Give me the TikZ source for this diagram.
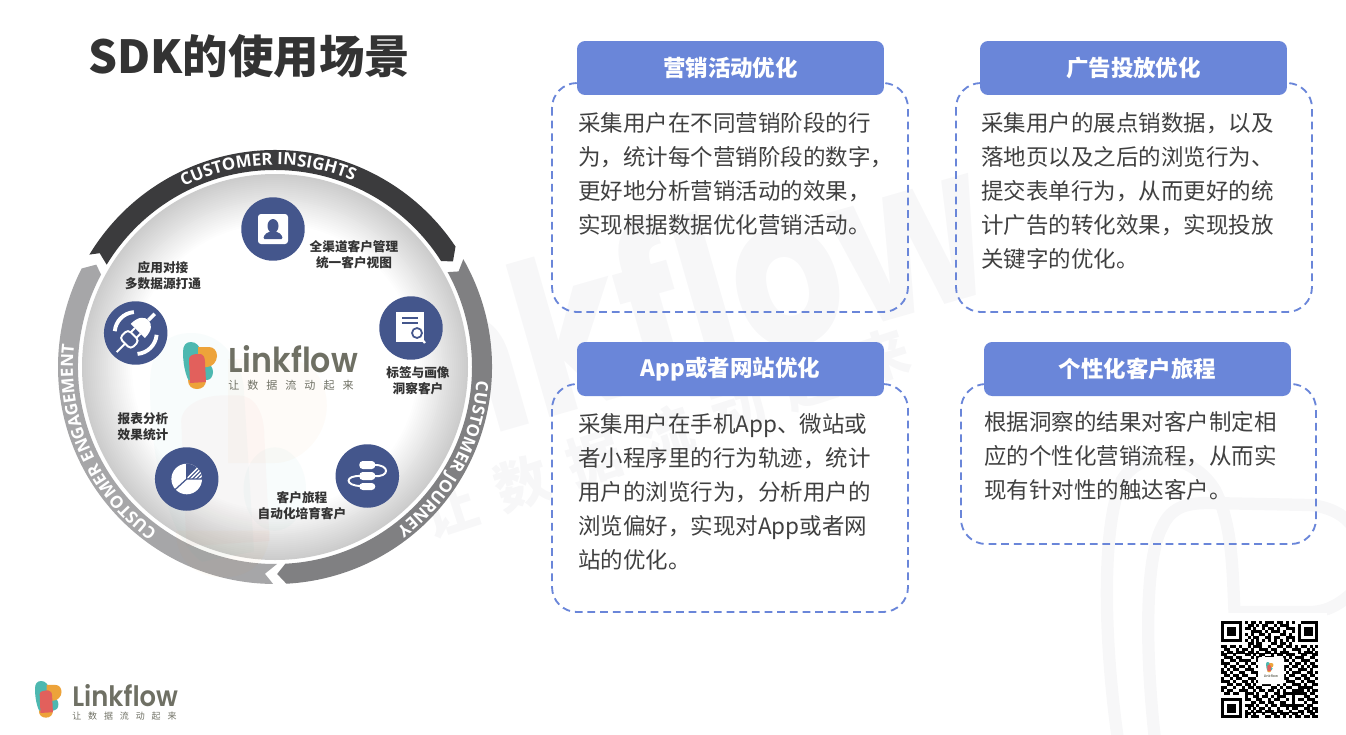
\documentclass[tikz,border=0pt]{standalone}
\usepackage{fontspec}
\setmainfont{Noto Sans CJK SC}
\newfontfamily\logofont{Poppins SemiBold}
\newfontfamily\wmfont{Poppins}
\newfontfamily\ringfont{Open Sans}[BoldFont=* Bold]
\usetikzlibrary{decorations.text}
\definecolor{cardblue}{HTML}{6A86D9}
\definecolor{ringdark}{HTML}{3B3B3D}
\definecolor{ringmid}{HTML}{808082}
\definecolor{ringpale}{HTML}{A6A6A8}
\definecolor{iconblue}{HTML}{44568C}
\definecolor{bodygray}{HTML}{404040}
\definecolor{logogray}{HTML}{6F7064}
\definecolor{logoteal}{HTML}{4DB8B0}
\definecolor{logored}{HTML}{E2605C}
\definecolor{logoorange}{HTML}{EDA33A}
\definecolor{wmgray}{HTML}{F7F7F8}
\newcount\qrx
\def\qrbits#1{\ifx#1;\else\if1#1\fill[black] (1221+2.95*\the\qrx,621+2.95*\qrrow) rectangle +(3,3);\fi\global\advance\qrx 1 \expandafter\qrbits\fi}
\tikzset{logomark/.pic={
\fill[logoteal] (0,10) .. controls (0,3) and (3,0) .. (8,0) .. controls (13,0) and (17,4) .. (18,10) -- (20,42) -- (10,44) .. controls (4,40) and (0,25) .. (0,10) -- cycle;
\fill[logoteal] (24,30) ellipse (6 and 8);
\fill[logoorange] (15,5) -- (26,5) .. controls (31,5) and (34,9) .. (34,14) .. controls (34,20) and (29,25) .. (24,25) -- (15,25) -- cycle;
\fill[logoorange] (5,38) -- (23,38) .. controls (23,44) and (19,47) .. (14,47) .. controls (9,47) and (5,44) .. (5,38) -- cycle;
\fill[logored] (6,17) .. controls (6,14) and (10,12) .. (14,12) -- (17,12) .. controls (20,12) and (22,15) .. (22,20) -- (23,40) -- (7,41) -- cycle;
}}
\begin{document}
\begin{tikzpicture}[x=0.02cm, y=-0.02cm,
body/.style={anchor=base west, inner sep=0pt, text=bodygray, font=\fontsize{12.8}{15}\selectfont},
head/.style={rounded corners=0.16cm, fill=cardblue, text=white, minimum width=6.14cm, minimum height=1.08cm, font=\fontsize{12.8}{15}\selectfont\bfseries},
dashbox/.style={draw=cardblue, line width=1.05pt, dash pattern=on 4.4pt off 2.8pt, rounded corners=0.5cm},
lab/.style={align=center, inner sep=0pt, text=black!80, font=\fontsize{7.2}{9.1}\selectfont\bfseries},
bubble/.style={circle, fill=iconblue, minimum size=1.27cm, inner sep=0pt},
ringtext/.style={decorate, decoration={text along path, text align=center, text={|\color{white}\fontsize{9.6}{11}\ringfont\bfseries|#1}}}]
\tikzstyle{up}=[y=0.02cm]
\def\fy{34}
\useasboundingbox (0,0) rectangle (1346,734);
%watermark
\node[anchor=base, rotate=16, xscale=0.81, text=wmgray, font=\fontsize{122}{130}\wmfont\bfseries] (wmlogo) at (650,389) {Linkflow};
\foreach \c [count=\i] in {让,数,据,流,动,起,来}
  \node[rotate=18, text=wmgray, font=\fontsize{31}{33}\selectfont\bfseries] (wm\i) at (378+72*\i,535-25.5*\i) {\c};
\draw[wmgray, line width=7pt, line cap=round] (1118,740) .. controls (1105,650) and (1100,530) .. (1122,480) .. controls (1140,450) and (1190,450) .. (1215,490) .. controls (1235,530) and (1232,580) .. (1236,640);
\draw[wmgray, line width=7pt] (1155,740) .. controls (1145,650) and (1145,560) .. (1162,527) .. controls (1172,505) and (1190,503) .. (1210,503) -- (1310,505) .. controls (1330,507) and (1346,515) .. (1355,530);
\draw[wmgray, line width=7pt] (1236,612) -- (1310,612) .. controls (1330,612) and (1345,600) .. (1355,590);
%ring
\begin{scope}[shift={(275,367)}, up]
\fill[white] (0,0) circle (197);
\foreach \r in {193,191,...,143} {
  \pgfmathsetmacro\p{min(100,60+(193-\r)*0.8)}
  \fill[white!\p!gray] (0,0) circle (\r);
}
\fill[ringdark] (148.8:217) arc[start angle=148.8, end angle=33.7, radius=217] -- (30.7:207) -- (32.5:197) arc[start angle=32.5, end angle=148.7, radius=197] -- (147:209) -- cycle;
\fill[ringmid] (29.8:217) arc[start angle=29.8, end angle=-87, radius=217] -- (-89.4:207) -- (-87:197) arc[start angle=-87, end angle=28.8, radius=197] -- (27.5:207) -- cycle;
\fill[ringpale] (-90.5:217) arc[start angle=-90.5, end angle=-207, radius=217] -- (-209.8:206) -- (-208:197) arc[start angle=-208, end angle=-89.4, radius=197] -- (-92.8:207) -- cycle;
\path[ringtext=CUSTOMER INSIGHTS] (152:202) arc[start angle=152, end angle=32, radius=202];
\path[ringtext=CUSTOMER JOURNEY] (31:202) arc[start angle=31, end angle=-88, radius=202];
\path[ringtext=CUSTOMER ENGAGEMENT] (-92:202) arc[start angle=-92, end angle=-220, radius=202];
\end{scope}
\path (150,333) pic[scale=5.2, opacity=0.035] {logomark};
%bubbles
\node[bubble] (cust) at (273,229) {};
\node[bubble] (plug) at (135.7,333) {};
\node[bubble] (tags) at (411,328) {};
\node[bubble] (trip) at (367.3,476) {};
\node[bubble] (stat) at (186.7,479) {};
\node[lab] (custlab) at (354,255) {全渠道客户管理\\统一客户视图};
\node[lab] (pluglab) at (163,276) {应用对接\\多数据源打通};
\node[lab] (tagslab) at (418,381) {标签与画像\\洞察客户};
\node[lab] (triplab) at (302,506) {客户旅程\\自动化培育客户};
\node[lab] (statlab) at (143,427) {报表分析\\效果统计};
%icons
\begin{scope}[shift={(cust)}, up]
\fill[white, rounded corners=0.06cm] (-15,-15) rectangle (15,15);
\fill[iconblue] (0,3) ellipse (5.5 and 7);
\fill[iconblue, rounded corners=0.03cm] (-10,-10) -- (10,-10) -- (8,-5) -- (2,-2) -- (-2,-2) -- (-8,-5) -- cycle;
\end{scope}
\begin{scope}[shift={(plug)}, up, rotate=45]
\draw[white, line width=1.1pt] (-27,0) -- (-15,0);
\draw[white, line width=1.1pt, rounded corners=0.08cm] (-3,-8) -- (-15,-8) -- (-15,8) -- (-3,8) -- cycle;
\draw[white, line width=1.1pt] (-3,4) -- (3,4) (-3,-4) -- (3,-4);
\fill[white] (3,-10) -- (3,10) .. controls (14,10) and (18,5) .. (18,0) .. controls (18,-5) and (14,-10) .. (3,-10) -- cycle;
\draw[white, line width=2pt] (18,0) -- (27,0);
\draw[white, line width=2.2pt] (50:21) arc[start angle=50, end angle=130, radius=21];
\draw[white, line width=2.2pt] (-50:21) arc[start angle=-50, end angle=-130, radius=21];
\end{scope}
\begin{scope}[shift={(tags)}]
\fill[white] (-15,-16) rectangle (12.5,14);
\draw[iconblue, line width=0.7pt] (-9,-10) -- (7,-10) (-9,-5) -- (7,-5);
\draw[white, line width=1.3pt] (9,9) -- (14,15);
\draw[iconblue, line width=1pt, fill=white] (6,5) circle (5);
\end{scope}
\begin{scope}[shift={(trip)}]
\draw[white, line width=1.1pt] (6,-11) .. controls (23,-12) and (23,2) .. (6,0);
\draw[white, line width=1.1pt] (-6,0) .. controls (-23,-1) and (-23,10) .. (-6,10);
\fill[white, rounded corners=0.07cm] (-8,-15) rectangle (8,-7);
\fill[white, rounded corners=0.07cm] (-8,-4) rectangle (8,4);
\fill[white, rounded corners=0.07cm] (-8,7) rectangle (8,14);
\end{scope}
\begin{scope}[shift={(stat)}, up]
\fill[white] (0,0) circle (15.3);
\begin{scope}
\clip (0,0) -- (15.3,0) arc[start angle=0, end angle=90, radius=15.3] -- cycle;
\fill[iconblue] (0,0) rectangle (16,16);
\foreach \k in {0,...,5}
  \draw[white, line width=0.8pt] (-2+4*\k,-2) -- (20,20-4*\k);
\end{scope}
\draw[iconblue, line width=0.7pt] (0,15.3) -- (0,0) -- (15.3,0) (0,0) -- (-12,-11);
\end{scope}
%logos
\path (183,342) pic[scale=1] {logomark};
\node[anchor=base west, xscale=0.92, inner sep=0pt, text=logogray, font=\fontsize{19.6}{22}\logofont] (biglogo) at (228,372) {Linkflow};
\node[anchor=base west, inner sep=0pt, text=logogray, font=\fontsize{6.3}{8}\selectfont\addfontfeature{LetterSpace=72}] (bigsub) at (228,389) {让数据流动起来};
\path (35,681) pic[scale=0.78] {logomark};
\node[anchor=base west, xscale=0.92, inner sep=0pt, text=logogray, font=\fontsize{16}{18}\logofont] (smalllogo) at (72,706) {Linkflow};
\node[anchor=base west, inner sep=0pt, text=logogray, font=\fontsize{5.1}{7}\selectfont\addfontfeature{LetterSpace=77}] (smallsub) at (72,719) {让数据流动起来};
%title
\node[anchor=base west, inner sep=0pt, text=black!80, font=\fontsize{25.9}{30}\selectfont\bfseries] (title) at (88,73) {SDK的使用场景};
%cards
\draw[dashbox] (552,83) rectangle (908,312);
\draw[dashbox] (956,83) rectangle (1312,312);
\draw[dashbox] (552,384) rectangle (908,612);
\draw[dashbox] (961,384) rectangle (1316,544);
\node[head] (mkthead) at (730.5,68) {营销活动优化};
\node[head] (adshead) at (1133.5,68) {广告投放优化};
\node[head] (apphead) at (730.5,369) {App或者网站优化};
\node[head] (tourhead) at (1137.5,369) {个性化客户旅程};
\node[body] (mkt0) at (578,131) {采集用户在不同营销阶段的行};
\node[body] (mkt1) at (578,131+1*\fy) {为，统计每个营销阶段的数字，};
\node[body] (mkt2) at (578,131+2*\fy) {更好地分析营销活动的效果，};
\node[body] (mkt3) at (578,131+3*\fy) {实现根据数据优化营销活动。};
\node[body] (ads0) at (981,131) {采集用户的展点销数据，以及};
\node[body] (ads1) at (981,131+1*\fy) {落地页以及之后的浏览行为、};
\node[body] (ads2) at (981,131+2*\fy) {提交表单行为，从而更好的统};
\node[body] (ads3) at (981,131+3*\fy) {计广告的转化效果，实现投放};
\node[body] (ads4) at (981,131+4*\fy) {关键字的优化。};
\node[body] (app0) at (578,432) {采集用户在手机App、微站或};
\node[body] (app1) at (578,432+1*\fy) {者小程序里的行为轨迹，统计};
\node[body] (app2) at (578,432+2*\fy) {用户的浏览行为，分析用户的};
\node[body] (app3) at (578,432+3*\fy) {浏览偏好，实现对App或者网};
\node[body] (app4) at (578,432+4*\fy) {站的优化。};
\node[body] (tour0) at (984,430) {根据洞察的结果对客户制定相};
\node[body] (tour1) at (984,430+1*\fy) {应的个性化营销流程，从而实};
\node[body] (tour2) at (984,430+2*\fy) {现有针对性的触达客户。};
%qr code
\fill[white] (1213,613) rectangle (1327,726);
\foreach \bits [count=\qrrow from 0] in {
111111101011010111011010100111111,
100000100110101100101110001000001,
101110101101001011010011101011101,
101110100011110101110100101011101,
101110101010011010001101001011101,
100000100101100110110011101000001,
111111101010101010101010101111111,
000000000110110001101101000000000,
110110100101110010011011010110101,
011001011010011101100100111001010,
101101110110100110101110001011101,
110010001101011001011011100110011,
011101100010110111000101011100110,
100110111100101000110110100111001,
111001001011000110101001011010110,
010110110100111001010110110101011,
101011001110010110101101001110100,
110100110011101001110010111001101,
011011011000110110001101100110110,
100101100111001011100110011011001,
111010011010110100111011100101110,
001101101101001110010100111010011,
110010010110110001101011001111100,
101100111001011011010100111101011,
011011001110100100110111111110110,
000000001001101101011100100011001,
111111101100110010110010101101110,
100000100011011011001100100010011,
101110101110100101101111111101100,
101110100101011010010010110011011,
101110101010110111011001001101101,
100000101101001001101110110100110,
111111101011100110110101011011011}
{\global\qrx=0 \expandafter\qrbits\bits;}
\fill[white, rounded corners=0.04cm] (1258,657) rectangle (1284,684);
\path (1266,662) pic[scale=0.22] {logomark};
\node[anchor=base, inner sep=0pt, text=logogray, font=\fontsize{2}{2}\logofont] (qrlogo) at (1271,677) {Linkflow};
\end{tikzpicture}
\end{document}
